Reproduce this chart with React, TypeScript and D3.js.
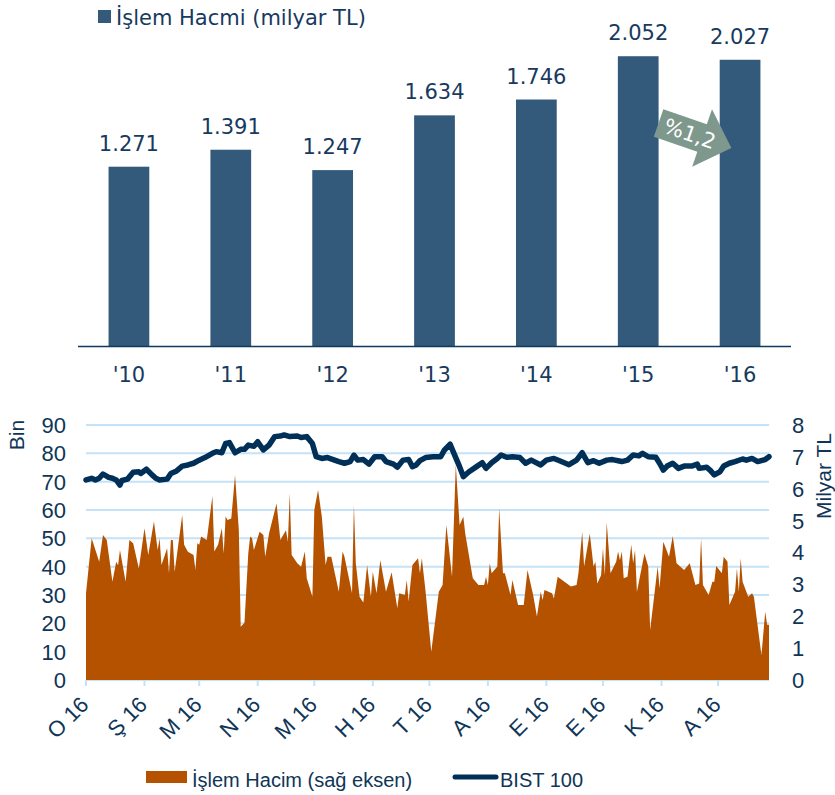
import React, { useRef, useEffect } from "react";
import * as d3 from "d3";

// yearly trading volume (milyar TL)
const years = ["'10", "'11", "'12", "'13", "'14", "'15", "'16"];
const yearlyVolume = [1271, 1391, 1247, 1634, 1746, 2052, 2027];
const growthLabel = "%1,2";

// 2016 daily data
const monthLabels = ["O 16", "Ş 16", "M 16", "N 16", "M 16", "H 16", "T 16", "A 16", "E 16", "E 16", "K 16", "A 16"];

const dailyVolume: [string, number][] = [
    ["01-01", 2.72], ["01-04", 4.45], ["01-06", 4.08], ["01-08", 3.71], ["01-10", 4.55], ["01-12", 4.39], ["01-15", 3.08],
    ["01-17", 3.71], ["01-18", 3.6], ["01-19", 4.08], ["01-22", 3.08], ["01-24", 4.39], ["01-26", 4.29], ["01-29", 3.5],
    ["02-01", 4.76], ["02-03", 3.92], ["02-06", 4.97], ["02-08", 4.08], ["02-09", 4.45], ["02-10", 3.61], ["02-13", 4.13],
    ["02-14", 3.35], ["02-15", 4.39], ["02-16", 4.39], ["02-17", 3.4], ["02-21", 5.18], ["02-22", 4.24], ["02-24", 4.02],
    ["02-27", 3.92], ["02-28", 3.45], ["02-29", 4.29], ["03-01", 4.24], ["03-02", 4.5], ["03-05", 4.39], ["03-08", 5.77],
    ["03-09", 4.03], ["03-11", 4.24], ["03-13", 4.76], ["03-14", 3.97], ["03-15", 5.14], ["03-16", 5.02], ["03-18", 5.07],
    ["03-20", 6.43], ["03-22", 4.7], ["03-23", 1.67], ["03-25", 1.8], ["03-27", 3.97], ["03-28", 4.5], ["03-29", 4.45],
    ["03-30", 4.08], ["04-02", 4.65], ["04-04", 4.55], ["04-05", 3.87], ["04-07", 4.6], ["04-11", 5.54], ["04-13", 4.39],
    ["04-16", 4.7], ["04-17", 4.34], ["04-18", 5.86], ["04-19", 3.92], ["04-22", 3.66], ["04-24", 3.55], ["04-26", 4.03],
    ["04-27", 3.19], ["04-30", 2.61], ["05-01", 5.33], ["05-03", 5.96], ["05-05", 5.12], ["05-07", 3.61], ["05-08", 3.87],
    ["05-10", 3.87], ["05-14", 2.77], ["05-16", 4.03], ["05-17", 3.87], ["05-21", 2.72], ["05-22", 5.49], ["05-23", 3.66],
    ["05-25", 2.61], ["05-27", 2.43], ["05-29", 3.61], ["05-31", 2.61], ["06-01", 3.4], ["06-03", 2.72], ["06-05", 3.76],
    ["06-08", 2.77], ["06-11", 3.38], ["06-14", 2.25], ["06-15", 2.72], ["06-18", 2.67], ["06-19", 3.14], ["06-20", 2.46],
    ["06-22", 3.61], ["06-25", 3.82], ["06-26", 3.35], ["06-27", 3.82], ["06-29", 2.77], ["07-02", 0.89], ["07-06", 2.77],
    ["07-08", 2.98], ["07-10", 4.86], ["07-13", 3.24], ["07-15", 6.75], ["07-17", 4.86], ["07-19", 5.12], ["07-20", 4.6],
    ["07-24", 3.19], ["07-27", 2.98], ["07-30", 2.98], ["07-31", 3.24], ["08-01", 2.98], ["08-02", 3.66], ["08-03", 3.35],
    ["08-06", 3.56], ["08-07", 5.39], ["08-09", 3.35], ["08-10", 3.35], ["08-13", 2.67], ["08-14", 3.14], ["08-17", 2.35],
    ["08-20", 2.35], ["08-22", 3.45], ["08-25", 2.67], ["08-27", 1.99], ["08-29", 2.77], ["08-30", 2.51], ["08-31", 2.82],
    ["09-04", 2.72], ["09-05", 2.56], ["09-07", 3.24], ["09-14", 2.93], ["09-17", 2.98], ["09-18", 3.35], ["09-20", 4.65],
    ["09-21", 3.56], ["09-24", 4.6], ["09-26", 3.56], ["09-27", 3.71], ["09-28", 3.03], ["09-30", 3.29], ["10-01", 4.13],
    ["10-02", 3.29], ["10-03", 4.94], ["10-05", 3.35], ["10-08", 3.71], ["10-09", 4.03], ["10-10", 3.76], ["10-11", 4.03],
    ["10-12", 3.19], ["10-14", 3.24], ["10-16", 4.24], ["10-17", 3.66], ["10-18", 4.08], ["10-19", 2.77], ["10-23", 3.97],
    ["10-25", 3.56], ["10-26", 1.57], ["10-30", 3.56], ["10-31", 2.88], ["11-02", 4.34], ["11-05", 3.87], ["11-07", 4.52],
    ["11-09", 3.66], ["11-13", 3.45], ["11-16", 3.66], ["11-19", 2.98], ["11-21", 3.03], ["11-22", 4.45], ["11-23", 2.98],
    ["11-26", 2.67], ["11-28", 3.08], ["11-29", 3.08], ["11-30", 3.58], ["12-03", 3.35], ["12-04", 3.87], ["12-06", 3.71],
    ["12-07", 2.35], ["12-10", 2.77], ["12-11", 3.5], ["12-12", 2.77], ["12-13", 3.82], ["12-14", 3.08], ["12-17", 2.61],
    ["12-19", 2.72], ["12-20", 2.61], ["12-24", 0.78], ["12-26", 2.14], ["12-27", 1.73], ["12-28", 1.73],
];

const bist100: [string, number][] = [
    ["01-01", 70.6], ["01-04", 71.2], ["01-06", 70.6], ["01-08", 71.2], ["01-10", 72.7], ["01-13", 71.5], ["01-15", 71.2],
    ["01-17", 70.6], ["01-19", 68.8], ["01-20", 70.4], ["01-23", 70.9], ["01-26", 73.3], ["01-29", 73.5], ["01-30", 72.9],
    ["02-02", 74.4], ["02-05", 72.4], ["02-07", 71.2], ["02-09", 70.6], ["02-13", 70.9], ["02-15", 72.9], ["02-18", 73.8],
    ["02-21", 75.5], ["02-24", 75.9], ["02-27", 76.5], ["03-01", 77.6], ["03-04", 78.5], ["03-08", 80.0], ["03-10", 80.6],
    ["03-13", 80.2], ["03-15", 83.5], ["03-17", 83.8], ["03-20", 80.2], ["03-23", 81.4], ["03-25", 81.4], ["03-27", 82.9],
    ["03-30", 82.5], ["04-01", 84.1], ["04-04", 81.2], ["04-07", 82.9], ["04-10", 85.9], ["04-13", 86.1], ["04-15", 86.5],
    ["04-18", 85.9], ["04-22", 86.1], ["04-24", 85.6], ["04-27", 85.9], ["04-30", 83.5], ["05-02", 78.8], ["05-05", 78.2],
    ["05-08", 78.5], ["05-14", 77.1], ["05-17", 76.5], ["05-20", 77.1], ["05-22", 79.4], ["05-24", 77.6], ["05-27", 77.8],
    ["05-30", 76.2], ["06-02", 78.8], ["06-06", 78.8], ["06-08", 77.1], ["06-12", 76.2], ["06-14", 75.1], ["06-17", 77.6],
    ["06-20", 77.8], ["06-22", 75.3], ["06-24", 75.9], ["06-26", 77.4], ["06-29", 78.5], ["07-03", 78.8], ["07-07", 78.8],
    ["07-09", 81.2], ["07-12", 83.2], ["07-14", 80.0], ["07-17", 75.3], ["07-19", 71.8], ["07-22", 73.5], ["07-26", 75.3],
    ["07-29", 76.7], ["07-31", 74.7], ["08-03", 76.7], ["08-06", 78.2], ["08-08", 79.4], ["08-11", 78.6], ["08-14", 78.8],
    ["08-18", 78.5], ["08-21", 76.5], ["08-24", 77.6], ["08-29", 75.9], ["09-01", 77.6], ["09-05", 78.2], ["09-08", 77.4],
    ["09-13", 76.0], ["09-17", 77.6], ["09-20", 80.2], ["09-23", 76.7], ["09-26", 77.4], ["09-29", 76.5], ["10-03", 77.6],
    ["10-06", 77.8], ["10-11", 77.1], ["10-14", 77.6], ["10-17", 79.4], ["10-20", 79.1], ["10-22", 80.0], ["10-25", 78.8],
    ["10-29", 78.6], ["10-31", 76.5], ["11-02", 74.1], ["11-04", 75.5], ["11-07", 76.5], ["11-10", 74.7], ["11-13", 75.5],
    ["11-17", 75.5], ["11-20", 76.2], ["11-21", 74.7], ["11-25", 75.1], ["11-27", 73.9], ["11-29", 72.4], ["12-02", 73.5],
    ["12-04", 75.5], ["12-07", 76.5], ["12-10", 77.1], ["12-14", 78.0], ["12-16", 77.6], ["12-19", 78.2], ["12-22", 77.1],
    ["12-26", 77.8], ["12-28", 78.8],
];

const leftTicks = [0, 10, 20, 30, 40, 50, 60, 70, 80, 90];
const rightTicks = [0, 1, 2, 3, 4, 5, 6, 7, 8];

const WIDTH = 835;
const HEIGHT = 795;

const App: React.FC = () => {
    const svgRef = useRef<SVGSVGElement | null>(null);

    useEffect(() => {
        if (!svgRef.current) return;
        const svg = d3.select(svgRef.current);
        svg.selectAll("*").remove();

        const navy = "#173a5e";
        const topFont = "'DejaVu Sans', Verdana, sans-serif";
        const botFont = "'Liberation Sans', Arial, sans-serif";

        // -----------------------------
        // Top: yearly bars
        // -----------------------------
        const trFormat = d3.formatLocale({ decimal: ",", thousands: ".", grouping: [3], currency: ["", ""] }).format(",d");

        const xBand = d3.scaleBand<string>()
            .domain(years)
            .range([78, 791])
            .paddingInner(0.6)
            .paddingOuter(0.3);

        const yBar = d3.scaleLinear()
            .domain([0, 2400])
            .range([346.5, 7]);

        const top = svg.append("g");

        top.append("rect")
            .attr("x", 98).attr("y", 10)
            .attr("width", 13).attr("height", 13)
            .attr("fill", "#345a7b");
        top.append("text")
            .attr("x", 116).attr("y", 25)
            .attr("font-family", topFont)
            .attr("font-size", 21)
            .attr("fill", navy)
            .text("İşlem Hacmi (milyar TL)");

        top.selectAll("rect.bar")
            .data(yearlyVolume)
            .enter()
            .append("rect")
            .attr("class", "bar")
            .attr("x", (_, i) => xBand(years[i])!)
            .attr("y", d => yBar(d))
            .attr("width", xBand.bandwidth())
            .attr("height", d => yBar(0) - yBar(d))
            .attr("fill", "#345a7b");

        top.selectAll("text.val")
            .data(yearlyVolume)
            .enter()
            .append("text")
            .attr("class", "val")
            .attr("x", (_, i) => xBand(years[i])! + xBand.bandwidth() / 2)
            .attr("y", d => yBar(d) - 16)
            .attr("text-anchor", "middle")
            .attr("font-family", topFont)
            .attr("font-size", 21)
            .attr("fill", navy)
            .text(d => trFormat(d));

        top.append("line")
            .attr("x1", 78).attr("x2", 791)
            .attr("y1", yBar(0)).attr("y2", yBar(0))
            .attr("stroke", "#0e3a60")
            .attr("stroke-width", 1.5);

        top.selectAll("text.year")
            .data(years)
            .enter()
            .append("text")
            .attr("class", "year")
            .attr("x", d => xBand(d)! + xBand.bandwidth() / 2)
            .attr("y", 382)
            .attr("text-anchor", "middle")
            .attr("font-family", topFont)
            .attr("font-size", 21)
            .attr("fill", navy)
            .text(d => d);

        // growth arrow between '15 and '16
        const arrow = top.append("g")
            .attr("transform", `translate(${xBand("'15")! + xBand.bandwidth()},${yBar(1580)}) rotate(19)`);
        arrow.append("path")
            .attr("d", "M0,-14.6 L46,-14.6 L46,-30.5 L77,0 L46,30.5 L46,14.6 L0,14.6 Z")
            .attr("fill", "#7f988d");
        arrow.append("text")
            .attr("x", 33).attr("y", 0)
            .attr("dy", "0.35em")
            .attr("text-anchor", "middle")
            .attr("font-family", topFont)
            .attr("font-size", 21)
            .attr("fill", "#ffffff")
            .text(growthLabel);

        // -----------------------------
        // Bottom: daily volume + BIST 100
        // -----------------------------
        const parse = d3.timeParse("%Y-%m-%d");
        const vol = dailyVolume.map(([d, v]) => ({ date: parse("2016-" + d)!, value: v }));
        const idx = bist100.map(([d, v]) => ({ date: parse("2016-" + d)!, value: v }));

        const x = d3.scaleTime()
            .domain([new Date(2016, 0, 1), new Date(2016, 11, 28)])
            .range([86, 769]);
        const yLeft = d3.scaleLinear().domain([0, 90]).range([680, 425]);
        const yRight = d3.scaleLinear().domain([0, 8]).range([680, 425]);

        const bot = svg.append("g");
        const grid = "#c4e2f8";

        bot.selectAll("line.grid")
            .data(leftTicks)
            .enter()
            .append("line")
            .attr("class", "grid")
            .attr("x1", x.range()[0]).attr("x2", x.range()[1])
            .attr("y1", d => yLeft(d)).attr("y2", d => yLeft(d))
            .attr("stroke", grid)
            .attr("stroke-width", 2);

        const months = d3.timeMonth.range(new Date(2016, 0, 1), new Date(2016, 11, 28));
        bot.selectAll("line.tick")
            .data(months)
            .enter()
            .append("line")
            .attr("class", "tick")
            .attr("x1", d => x(d)).attr("x2", d => x(d))
            .attr("y1", 680).attr("y2", 686)
            .attr("stroke", grid)
            .attr("stroke-width", 2);

        const area = d3.area<{ date: Date; value: number }>()
            .x(d => x(d.date))
            .y0(yRight(0))
            .y1(d => yRight(d.value));
        bot.append("path")
            .datum(vol)
            .attr("d", area)
            .attr("fill", "#b45200");

        const line = d3.line<{ date: Date; value: number }>()
            .x(d => x(d.date))
            .y(d => yLeft(d.value));
        bot.append("path")
            .datum(idx)
            .attr("d", line)
            .attr("fill", "none")
            .attr("stroke", "#003057")
            .attr("stroke-width", 5.5)
            .attr("stroke-linejoin", "round")
            .attr("stroke-linecap", "round");

        const axisColor = "#0f3557";

        bot.selectAll("text.yl")
            .data(leftTicks)
            .enter()
            .append("text")
            .attr("class", "yl")
            .attr("x", 66)
            .attr("y", d => yLeft(d))
            .attr("dy", "0.36em")
            .attr("text-anchor", "end")
            .attr("font-family", botFont)
            .attr("font-size", 22)
            .attr("fill", axisColor)
            .text(d => d);

        bot.selectAll("text.yr")
            .data(rightTicks)
            .enter()
            .append("text")
            .attr("class", "yr")
            .attr("x", 792)
            .attr("y", d => yRight(d))
            .attr("dy", "0.36em")
            .attr("font-family", botFont)
            .attr("font-size", 22)
            .attr("fill", axisColor)
            .text(d => d);

        bot.selectAll("text.month")
            .data(months)
            .enter()
            .append("text")
            .attr("class", "month")
            .attr("transform", d => `translate(${x(d) + 4},706) rotate(-45)`)
            .attr("text-anchor", "end")
            .attr("font-family", botFont)
            .attr("font-size", 22)
            .attr("fill", axisColor)
            .text((_, i) => monthLabels[i]);

        bot.append("text")
            .attr("transform", "translate(17,435) rotate(-90)")
            .attr("dy", "0.35em")
            .attr("text-anchor", "middle")
            .attr("font-family", botFont)
            .attr("font-size", 21)
            .attr("fill", axisColor)
            .text("Bin");

        bot.append("text")
            .attr("transform", "translate(824,476) rotate(-90)")
            .attr("dy", "0.35em")
            .attr("text-anchor", "middle")
            .attr("font-family", botFont)
            .attr("font-size", 21)
            .attr("fill", axisColor)
            .text("Milyar TL");

        // legend
        bot.append("rect")
            .attr("x", 146).attr("y", 771)
            .attr("width", 41).attr("height", 12)
            .attr("fill", "#b45200");
        bot.append("text")
            .attr("x", 192).attr("y", 787)
            .attr("font-family", botFont)
            .attr("font-size", 20)
            .attr("fill", axisColor)
            .text("İşlem Hacim (sağ eksen)");
        bot.append("line")
            .attr("x1", 455).attr("x2", 496)
            .attr("y1", 777).attr("y2", 777)
            .attr("stroke", "#003057")
            .attr("stroke-width", 5)
            .attr("stroke-linecap", "round");
        bot.append("text")
            .attr("x", 500).attr("y", 787)
            .attr("font-family", botFont)
            .attr("font-size", 20)
            .attr("fill", axisColor)
            .text("BIST 100");
    }, []);

    return (
        <div style={{ position: "absolute", left: 0, top: 0 }}>
            <svg ref={svgRef} width={WIDTH} height={HEIGHT} style={{ display: "block", background: "#ffffff" }} />
        </div>
    );
};

export default App;
